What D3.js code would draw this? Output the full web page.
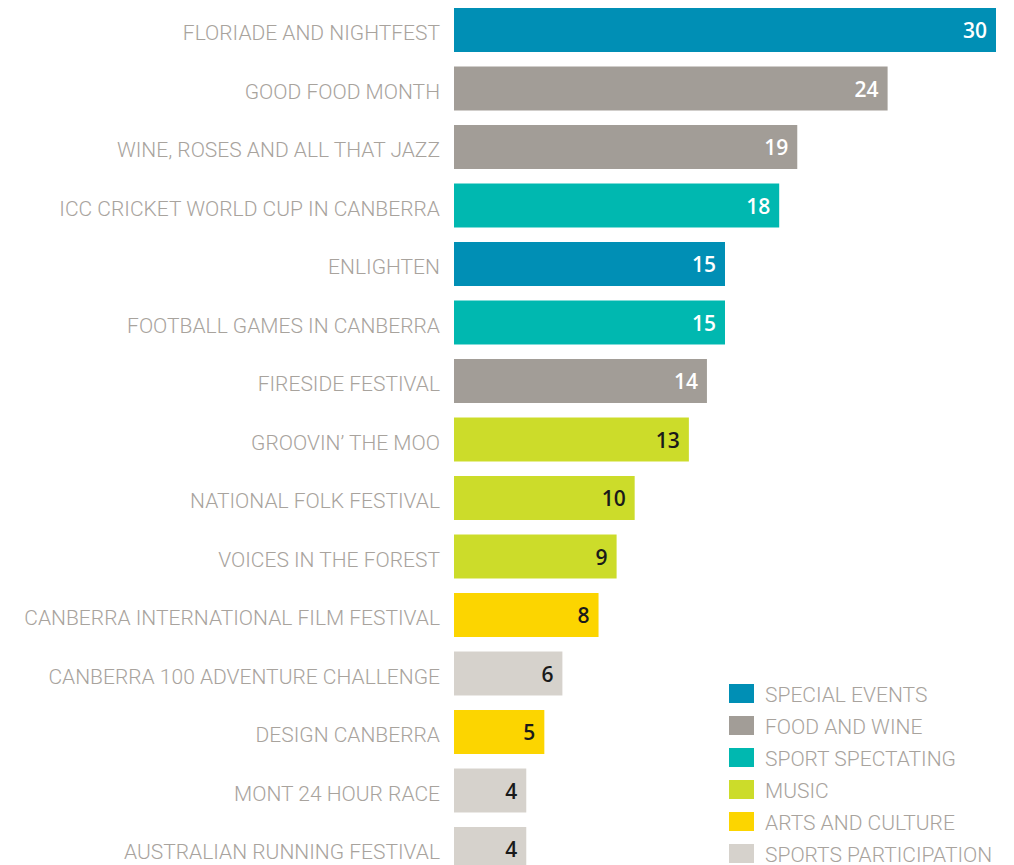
<!DOCTYPE html>
<html>
<head>
<meta charset="utf-8">
<script src="https://cdn.jsdelivr.net/npm/d3@7"></script>
<style>
  body { margin: 0; background: #fff; }
  svg { display: block; }
</style>
</head>
<body>
<svg id="chart" width="1014" height="865"></svg>
<script>
// Data
const events = [
  "FLORIADE AND NIGHTFEST",
  "GOOD FOOD MONTH",
  "WINE, ROSES AND ALL THAT JAZZ",
  "ICC CRICKET WORLD CUP IN CANBERRA",
  "ENLIGHTEN",
  "FOOTBALL GAMES IN CANBERRA",
  "FIRESIDE FESTIVAL",
  "GROOVIN\u2019 THE MOO",
  "NATIONAL FOLK FESTIVAL",
  "VOICES IN THE FOREST",
  "CANBERRA INTERNATIONAL FILM FESTIVAL",
  "CANBERRA 100 ADVENTURE CHALLENGE",
  "DESIGN CANBERRA",
  "MONT 24 HOUR RACE",
  "AUSTRALIAN RUNNING FESTIVAL",
];
const values = [30, 24, 19, 18, 15, 15, 14, 13, 10, 9, 8, 6, 5, 4, 4];
const eventCategory = [
  "SPECIAL EVENTS", "FOOD AND WINE", "FOOD AND WINE", "SPORT SPECTATING",
  "SPECIAL EVENTS", "SPORT SPECTATING", "FOOD AND WINE", "MUSIC", "MUSIC",
  "MUSIC", "ARTS AND CULTURE", "SPORTS PARTICIPATION", "ARTS AND CULTURE",
  "SPORTS PARTICIPATION", "SPORTS PARTICIPATION",
];
const categories = [
  "SPECIAL EVENTS", "FOOD AND WINE", "SPORT SPECTATING",
  "MUSIC", "ARTS AND CULTURE", "SPORTS PARTICIPATION",
];
const categoryColors = ["#008fb5", "#a29d97", "#00b8b0", "#ccdc2a", "#fcd500", "#d6d2cc"];
const darkCategories = ["SPECIAL EVENTS", "FOOD AND WINE", "SPORT SPECTATING"];

const rows = events.map((name, i) => ({ name, value: values[i], cat: eventCategory[i] }));

// Layout
const svg = d3.select("#chart");
const LABEL_FONT = "Roboto, 'Liberation Sans', sans-serif";
const VALUE_FONT = "'Open Sans', 'DejaVu Sans', sans-serif";

const x = d3.scaleLinear().domain([0, 30]).range([454, 996]);
const y = d3.scaleBand()
  .domain(events)
  .range([8 - 7.25, 8 - 7.25 + 58.5 * events.length])
  .paddingInner(0.248)
  .paddingOuter(0.124);

const color = d3.scaleOrdinal().domain(categories).range(categoryColors);

// Bars
svg.append("g")
  .selectAll("rect")
  .data(rows)
  .join("rect")
  .attr("x", x(0))
  .attr("y", (d) => y(d.name))
  .attr("width", (d) => x(d.value) - x(0))
  .attr("height", y.bandwidth())
  .attr("fill", (d) => color(d.cat));

// Category labels (left)
svg.append("g")
  .selectAll("text")
  .data(rows)
  .join("text")
  .attr("x", 440)
  .attr("y", (d) => y(d.name) + y.bandwidth() / 2 + 3)
  .attr("dy", "0.35em")
  .attr("text-anchor", "end")
  .attr("font-family", LABEL_FONT)
  .attr("font-weight", 300)
  .attr("font-size", 21)
  .attr("fill", "#a8a39d")
  .text((d) => d.name);

// Values inside bars
svg.append("g")
  .selectAll("text")
  .data(rows)
  .join("text")
  .attr("x", (d) => x(d.value) - 9)
  .attr("y", (d) => y(d.name) + y.bandwidth() / 2 + 1)
  .attr("dy", "0.35em")
  .attr("text-anchor", "end")
  .attr("font-family", VALUE_FONT)
  .attr("font-weight", 600)
  .attr("font-size", 21)
  .attr("fill", (d) => (darkCategories.includes(d.cat) ? "#ffffff" : "#1a1a1a"))
  .text((d) => d.value);

// Legend
const legend = svg.append("g")
  .selectAll("g")
  .data(categories)
  .join("g")
  .attr("transform", (d, i) => `translate(729, ${684 + i * 32})`);

legend.append("rect")
  .attr("width", 25)
  .attr("height", 19)
  .attr("fill", (d) => color(d));

legend.append("text")
  .attr("x", 36)
  .attr("y", 11)
  .attr("dy", "0.35em")
  .attr("font-family", LABEL_FONT)
  .attr("font-weight", 300)
  .attr("font-size", 21)
  .attr("fill", "#a8a39d")
  .text((d) => d);
</script>
</body>
</html>
